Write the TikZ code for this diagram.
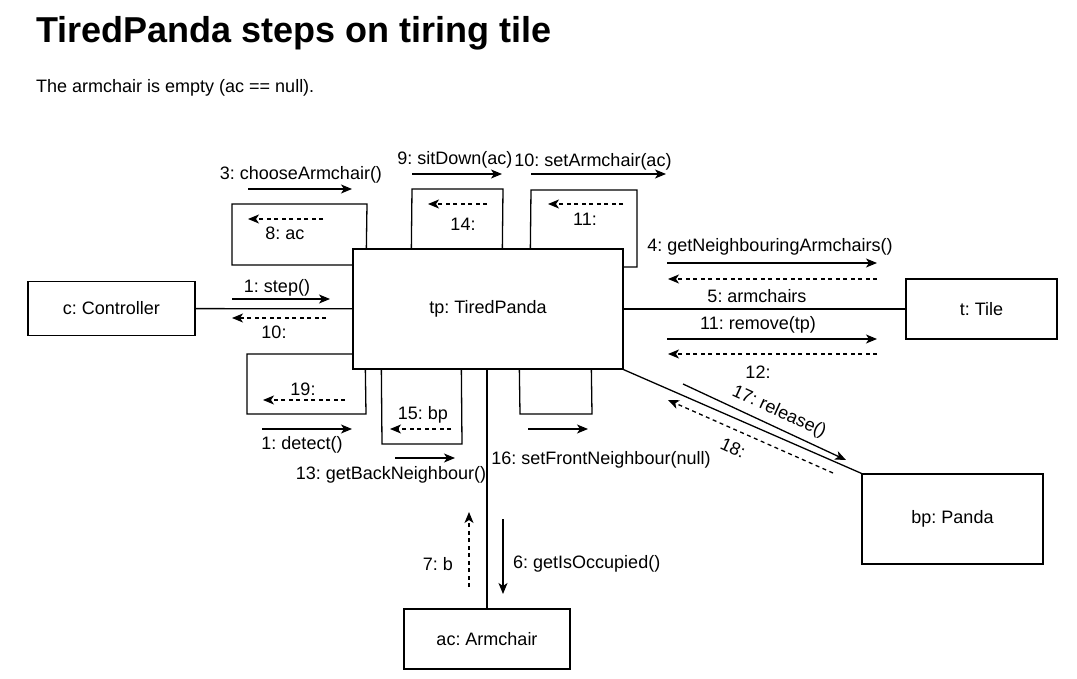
\documentclass[tikz,border=0pt]{standalone}
\usepackage{fontspec}
\setmainfont{Liberation Sans}
\usetikzlibrary{arrows.meta}
\frenchspacing
\newcommand{\lbl}{\fontsize{18}{21}\selectfont}
\tikzset{
  obj/.style={draw,line width=1.3pt,inner sep=0pt,font=\lbl},
  msg/.style={-{Stealth[length=11pt,width=9pt,inset=3pt]},line width=1.3pt},
  ret/.style={msg,dash pattern=on 4pt off 3.5pt},
  lnk/.style={line width=1.3pt},
  lab/.style={font=\lbl,inner sep=0pt}
}
\begin{document}
\begin{tikzpicture}[x=1pt,y=-1pt]
\useasboundingbox[fill=white] (0,0) rectangle (1077,679);
\node[anchor=base west,inner sep=0pt,font=\fontsize{36}{40}\selectfont\bfseries] (title) at (36,43) {TiredPanda steps on tiring tile};
\node[anchor=base west,inner sep=0pt,font=\lbl] (sub) at (36,93) {The armchair is empty (ac == null).};
% objects
\node[obj,minimum width=167,minimum height=54] (c) at (111.5,308.5) {c: Controller};
\node[obj,minimum width=270,minimum height=120] (tp) at (488,309) {tp: TiredPanda};
\node[obj,minimum width=151,minimum height=60] (t) at (981.5,309) {t: Tile};
\node[obj,minimum width=181,minimum height=90] (bp) at (952.5,519) {bp: Panda};
\node[obj,minimum width=166,minimum height=60] (ac) at (487,639) {ac: Armchair};
% links
\draw[lnk] (c) -- (tp);
\draw[lnk] (tp) -- (t);
\draw[lnk] (tp.south -| ac.north) -- (ac.north);
\draw[lnk] (tp.south east) -- (bp.north west);
% self links
\draw[lnk] ([xshift=14]tp.north west) -- (367,204) -- (232,204) -- (232,265) -- (tp.west |- 0,265);
\draw[lnk] ([xshift=59]tp.north west) -- (412,189) -- (503,189) -- ([xshift=150]tp.north west);
\draw[lnk] ([xshift=178]tp.north west) -- (531,190) -- (637,190) -- (637,267) -- (tp.east |- 0,267);
\draw[lnk] (tp.west |- 0,354) -- (247,354) -- (247,414) -- (366,414) -- ([xshift=13]tp.south west);
\draw[lnk] ([xshift=29]tp.south west) -- (382,444) -- (462,444) -- ([xshift=109]tp.south west);
\draw[lnk] ([xshift=167]tp.south west) -- (520,414) -- (592,414) -- ([xshift=239]tp.south west);
% messages
\draw[msg] (248,189) -- (352,189);
\node[lab] (m3) at (301,175) {3: chooseArmchair()};
\draw[ret] (323,219) -- (248,219);
\node[lab] (m8) at (285,233) {8: ac};
\draw[msg] (412,174) -- (502,174);
\node[lab] (m9) at (455,160) {9: sitDown(ac)};
\draw[ret] (487,204) -- (428,204);
\node[lab] (m14) at (463,224) {14:};
\draw[msg] (531,174) -- (666,174);
\node[lab] (m10a) at (593,162) {10: setArmchair(ac)};
\draw[ret] (623,204) -- (548,204);
\node[lab] (m11a) at (585,219) {11:};
\draw[msg] (667,263) -- (877,263);
\node[lab] (m4) at (770,247) {4: getNeighbouringArmchairs()};
\draw[ret] (877,279) -- (668,279);
\node[lab] (m5) at (757,296) {5: armchairs};
\draw[msg] (667,339) -- (877,339);
\node[lab] (m11b) at (758,325) {11: remove(tp)};
\draw[ret] (877,354) -- (668,354);
\node[lab] (m12) at (758,372) {12:};
\draw[msg] (683,384) -- (846,460);
\node[lab,rotate=-24.5] (m17) at (779,412) {17: release()};
\draw[ret] (833,473) -- (668,400);
\node[lab,rotate=-24.5] (m18) at (733,448) {18:};
\draw[msg] (232,299) -- (330,299);
\node[lab] (m1a) at (277,288) {1: step()};
\draw[ret] (326,318) -- (232,318);
\node[lab] (m10b) at (274,332) {10:};
\draw[ret] (345,400) -- (263,400);
\node[lab] (m19) at (303,389) {19:};
\draw[msg] (262,429) -- (352,429);
\node[lab] (m1b) at (302,445) {1: detect()};
\draw[ret] (451,429) -- (390,429);
\node[lab] (m15) at (423,415) {15: bp};
\draw[msg] (395,458) -- (455,458);
\node[lab] (m13) at (391,475) {13: getBackNeighbour()};
\draw[msg] (528,429) -- (588,429);
\node[lab] (m16) at (601,460) {16: setFrontNeighbour(null)};
\draw[msg] (503,519) -- (503,594);
\node[lab,anchor=west] (m6) at (513,564) {6: getIsOccupied()};
\draw[ret] (469,587) -- (469,512);
\node[lab] (m7) at (438,564) {7: b};
\end{tikzpicture}
\end{document}
